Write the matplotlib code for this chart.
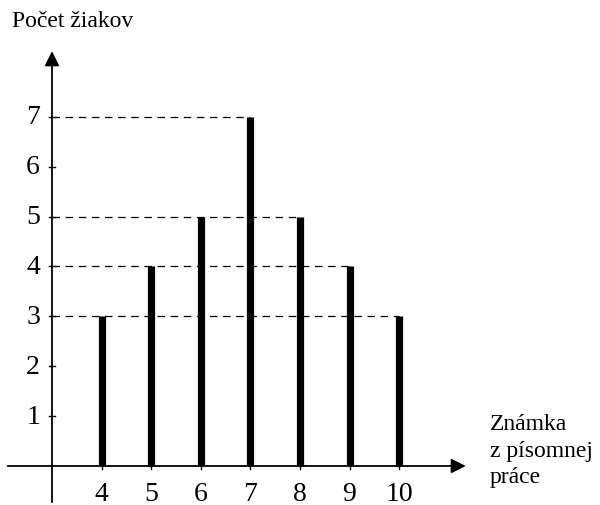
import matplotlib.pyplot as plt

# známky a počty žiakov
znamky = [4, 5, 6, 7, 8, 9, 10]
pocty = [3, 4, 5, 7, 5, 4, 3]
y_ticks = [1, 2, 3, 4, 5, 6, 7]

plt.rcParams['font.family'] = ['Liberation Serif', 'DejaVu Serif']

fig = plt.figure(figsize=(6, 5.06), dpi=100)
ax = fig.add_axes([0, 0, 1, 1])
ax.set_xlim(1.952, 14.05)
ax.set_ylim(-0.782, 9.36)
ax.axis('off')

# osi so šípkami
ax.annotate('', xy=(11.4, 0), xytext=(2.05, 0),
            arrowprops=dict(arrowstyle='-|>', color='black', lw=1.3, mutation_scale=22))
ax.annotate('', xy=(3, 8.37), xytext=(3, -0.782),
            arrowprops=dict(arrowstyle='-|>', color='black', lw=1.3, mutation_scale=22))

# stĺpce
ax.vlines(znamky, 0, pocty, color='black', linewidth=5.2)

# prerušované čiary k najvzdialenejšiemu stĺpcu s danou hodnotou
for v in sorted(set(pocty)):
    x_max = max(z for z, p in zip(znamky, pocty) if p == v)
    ax.plot([3, x_max], [v, v], color='black', linestyle=(0, (6, 4.5)), linewidth=0.9)

# dieliky a popisy osí
for t in y_ticks:
    ax.plot([2.94, 3.06], [t, t], color='black', linewidth=1.0)
    ax.text(2.76, t, str(t), ha='right', va='center', fontsize=20)
for z in znamky:
    ax.plot([z, z], [0, -0.06], color='black', linewidth=1.0)
    ax.text(z, -0.56, str(z), ha='center', va='center', fontsize=20)

ax.text(2.2, 8.92, 'Počet žiakov', ha='left', va='center', fontsize=17)
ax.text(11.83, 0.74, 'Známka', ha='left', va='baseline', fontsize=17)
ax.text(11.83, 0.20, 'z písomnej', ha='left', va='baseline', fontsize=17)
ax.text(11.83, -0.32, 'práce', ha='left', va='baseline', fontsize=17)

fig.savefig('out.png', dpi=100)
